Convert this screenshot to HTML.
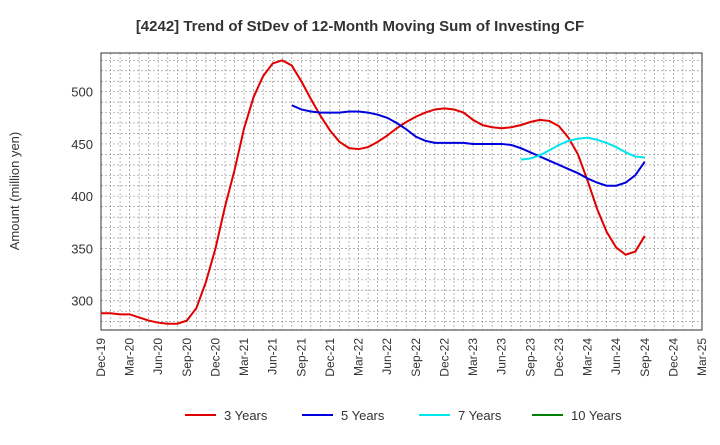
<!DOCTYPE html>
<html><head><meta charset="utf-8"><style>
body{margin:0;background:#fff;font-family:"Liberation Sans",sans-serif}
svg text{font-family:"Liberation Sans",sans-serif}
</style></head><body>
<svg id="c" width="720" height="440" xmlns="http://www.w3.org/2000/svg">
<text x="360" y="31" text-anchor="middle" font-size="15" font-weight="bold" fill="#333">[4242]  Trend of StDev of 12-Month Moving Sum of Investing CF</text>
<text transform="translate(19,191) rotate(-90)" text-anchor="middle" font-size="13" fill="#333">Amount (million yen)</text>
<g id="grid"></g><g id="axes"></g><g id="series"></g><g id="legend"></g>
</svg>
<script>
const xLabels=["Dec-19","Mar-20","Jun-20","Sep-20","Dec-20","Mar-21","Jun-21","Sep-21","Dec-21","Mar-22","Jun-22","Sep-22","Dec-22","Mar-23","Jun-23","Sep-23","Dec-23","Mar-24","Jun-24","Sep-24","Dec-24","Mar-25"];
const yTicks=[300,350,400,450,500];
const s3=[288,288,287,287,284,281,279,278,278,281,293,318,350,390,425,465,495,515,527,530,525,510,493,477,463,452,446,445,447,452,458,465,471,476,480,483,484,483,480,473,468,466,465,466,468,471,473,472,467,456,440,415,388,366,351,344,347,362];
const s5start=20;
const s5=[487,483,481,480,480,480,481,481,480,478,475,470,464,457,453,451,451,451,451,450,450,450,450,449,446,442,438,434,430,426,422,417,413,410,410,413,420,433];
const s7start=44;
const s7=[435,436,439,444,449,453,455,456,454,451,447,442,438,437];
const s10=[];
const L=101,R=702,T=53,B=330,yMin=272,yMax=537,nMonths=63;
const X=i=>L+(R-L)*i/nMonths, Y=v=>B-(B-T)*(v-yMin)/(yMax-yMin);
const NS="http://www.w3.org/2000/svg";
function mk(p,tag,a){const e=document.createElementNS(NS,tag);for(const k in a)e.setAttribute(k,a[k]);document.getElementById(p).appendChild(e);return e;}
for(let i=0;i<=nMonths;i++){const g=mk('grid','line',{x1:X(i),x2:X(i),y1:T,y2:B,stroke:'#999','stroke-width':0.7,'stroke-dasharray':'2,2'});

}
for(let v=280;v<=530;v+=10){const g=mk('grid','line',{x1:L,x2:R,y1:Y(v),y2:Y(v),stroke:'#999','stroke-width':0.7,'stroke-dasharray':'2,2'});

}
const fr=mk('axes','rect',{x:L,y:T,width:R-L,height:B-T,fill:'none',stroke:'#333','stroke-width':1});


yTicks.forEach(v=>{const t=mk('axes','text',{x:L-8,y:Y(v)+5,'text-anchor':'end','font-size':13,fill:'#333'});t.textContent=v;

});
xLabels.forEach((s,i)=>{const x=X(i*3);const t=mk('axes','text',{transform:`translate(${x+4},${B+8}) rotate(-90)`,'text-anchor':'end','font-size':12,fill:'#333'});t.textContent=s;

});
function line(arr,start,col,name){if(!arr.length)return;const p=mk('series','polyline',{points:arr.map((v,i)=>X(start+i)+','+Y(v)).join(' '),fill:'none',stroke:col,'stroke-width':2});

}
line(s3,0,'#e00000','series-3-years');line(s5,s5start,'#0000dd','series-5-years');line(s7,s7start,'#00e5ee','series-7-years');line(s10,0,'#008000','series-10-years');
[['3 Years','#e00000',185],['5 Years','#0000dd',302],['7 Years','#00e5ee',419],['10 Years','#008000',532]].forEach(([n,c,x])=>{
const l=mk('legend','line',{x1:x,x2:x+31,y1:415,y2:415,stroke:c,'stroke-width':2});


const t=mk('legend','text',{x:x+39,y:420,'font-size':13,fill:'#333'});t.textContent=n;

});
</script>
</body></html>
